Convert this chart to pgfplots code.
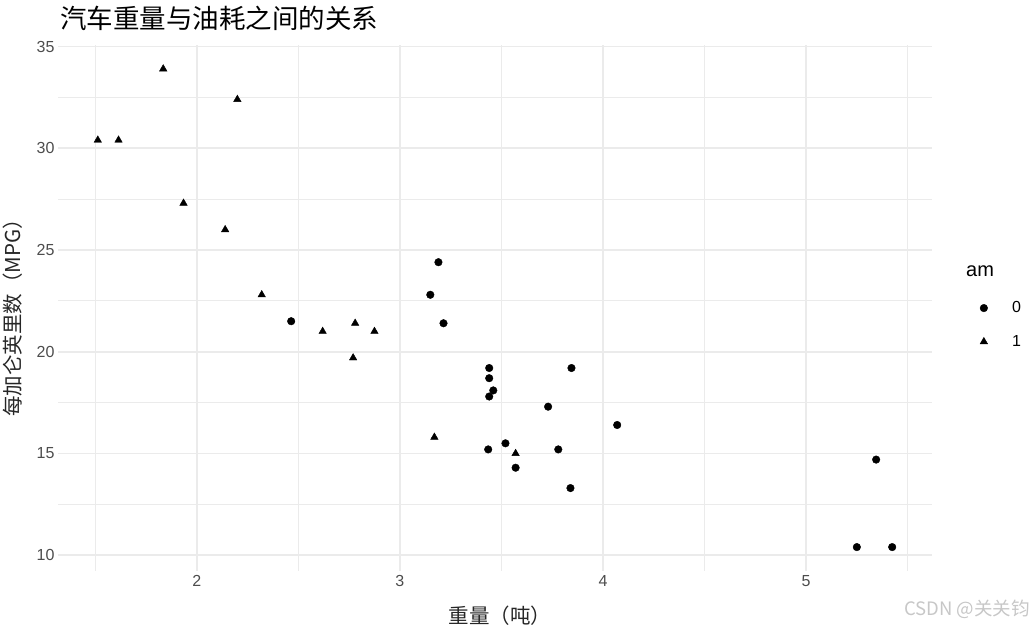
\documentclass[border=0pt]{standalone}
\usepackage{fontspec}
\setmainfont{Liberation Sans}
\newfontfamily\cjk{Noto Sans CJK SC}
\usepackage{pgfplots}
\pgfplotsset{compat=1.18}
\definecolor{gridc}{HTML}{EBEBEB}
\definecolor{tickc}{HTML}{4D4D4D}
\begin{document}
\begin{tikzpicture}[x=1pt,y=1pt]
\path[use as bounding box] (0,0) rectangle (1034,627);
\begin{axis}[at={(58pt,56pt)}, anchor=south west, scale only axis,
  width=874pt, height=526pt,
  xmin=1.317, xmax=5.620, ymin=9.225, ymax=35.075,
  axis line style={draw=none},
  major tick length=0pt, minor tick length=0pt,
  xtick={2,3,4,5}, minor xtick={1.5,2.5,3.5,4.5,5.5},
  ytick={10,15,20,25,30,35}, minor ytick={12.5,17.5,22.5,27.5,32.5},
  grid=both,
  major grid style={gridc, line width=1.7pt},
  minor grid style={gridc, line width=0.85pt},
  /pgf/number format/assume math mode=true,
  xticklabel style={font=\fontsize{16}{16}\selectfont, text=tickc, yshift=-1pt},
  yticklabel style={font=\fontsize{16}{16}\selectfont, text=tickc, xshift=0pt},
  legend style={at={(axis description cs:1.044,0.468)}, anchor=west, draw=none,
    font=\fontsize{16}{16}\selectfont, row sep=17pt},
  legend image code/.code={\path (0pt,0pt) (36pt,0pt); \draw[#1] plot coordinates {(10pt,0pt)};},
  legend cell align=left,
  clip=false,
]
\addplot[only marks, mark=*, mark size=3.8pt, black] coordinates {
(3.215,21.4) (3.440,18.7) (3.460,18.1) (3.570,14.3) (3.190,24.4) (3.150,22.8)
(3.440,19.2) (3.440,17.8) (4.070,16.4) (3.730,17.3) (3.780,15.2) (5.250,10.4)
(5.424,10.4) (5.345,14.7) (2.465,21.5) (3.520,15.5) (3.435,15.2) (3.840,13.3)
(3.845,19.2)};
\addlegendentry{0}
\addplot[only marks, mark=triangle*, mark size=4.3pt, black] coordinates {
(2.620,21.0) (2.875,21.0) (2.320,22.8) (2.200,32.4) (1.615,30.4) (1.835,33.9)
(1.935,27.3) (2.140,26.0) (1.513,30.4) (3.170,15.8) (2.770,19.7) (3.570,15.0)
(2.780,21.4)};
\addlegendentry{1}
\end{axis}
\node[anchor=base west, inner sep=0pt, font=\cjk\fontsize{26.5}{26.5}\selectfont] at (60,598) {汽车重量与油耗之间的关系};
\node[font=\cjk\fontsize{20.5}{20.5}\selectfont, text=black!85] at (500,11) {重量（吨）};
\node[rotate=90, font=\cjk\fontsize{20.5}{20.5}\selectfont, text=black!85] at (13,314) {每加仑英里数（MPG）};
\node[anchor=base west, inner sep=0pt, font=\fontsize{20}{20}\selectfont] at (966,350) {am};
\node[anchor=base east, inner sep=0pt, font=\cjk\fontsize{18.5}{18.5}\selectfont, text=black!22] at (1030,12) {CSDN @关关钧};
\end{tikzpicture}
\end{document}
